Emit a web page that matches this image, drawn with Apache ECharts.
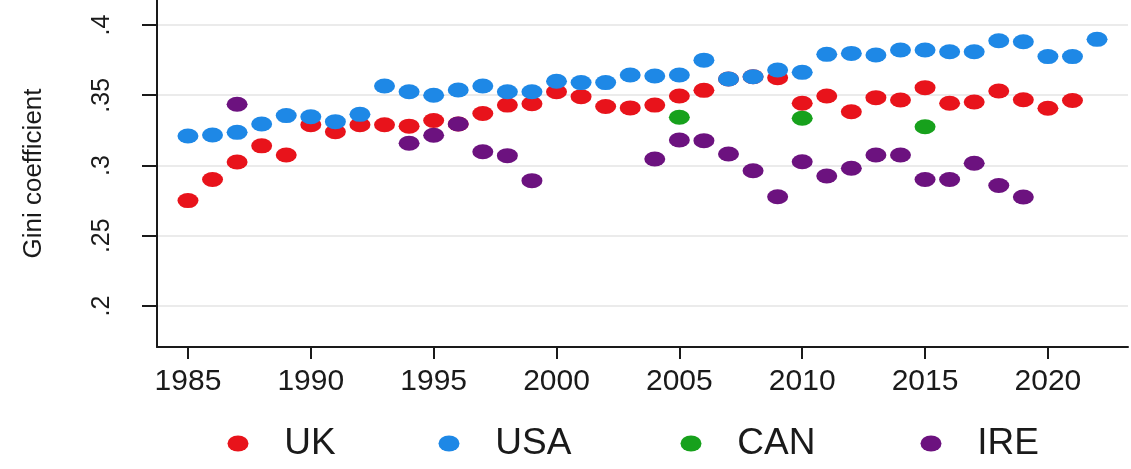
<!DOCTYPE html>
<html>
<head>
<meta charset="utf-8">
<script src="https://cdn.jsdelivr.net/npm/echarts@6/dist/echarts.min.js"></script>
<style>
    html, body { margin: 0; padding: 0; background: #fff; }
    #chart { width: 1131px; height: 469px; }
</style>
</head>
<body>
<div id="chart"></div>
<script>
// years shown on the x axis
var years = [1985, 1986, 1987, 1988, 1989, 1990, 1991, 1992, 1993, 1994,
    1995, 1996, 1997, 1998, 1999, 2000, 2001, 2002, 2003, 2004,
    2005, 2006, 2007, 2008, 2009, 2010, 2011, 2012, 2013, 2014,
    2015, 2016, 2017, 2018, 2019, 2020, 2021, 2022];

// Gini coefficient per year (null = no observation)
var ukValues = [0.275, 0.290, 0.3025, 0.314, 0.3075, 0.329, 0.324, 0.329, 0.329, 0.328,
    0.332, 0.3295, 0.337, 0.343, 0.344, 0.3525, 0.349, 0.342, 0.341, 0.343,
    0.3495, 0.3535, 0.3616, 0.3632, 0.3625, 0.3443, 0.3495, 0.3383, 0.3483, 0.3466,
    0.3554, 0.3443, 0.3452, 0.353, 0.3468, 0.3407, 0.3463, null];

var usaValues = [0.321, 0.3217, 0.3236, 0.3295, 0.3355, 0.3347, 0.3312, 0.3364, 0.3566, 0.3525,
    0.350, 0.3537, 0.3566, 0.3525, 0.3525, 0.360, 0.359, 0.359, 0.3644, 0.3637,
    0.3644, 0.375, 0.3616, 0.3632, 0.368, 0.3663, 0.3791, 0.3798, 0.3786, 0.3822,
    0.3822, 0.381, 0.381, 0.3888, 0.3881, 0.3775, 0.3775, 0.3898];

var canValues = [null, null, null, null, null, null, null, null, null, null,
    null, null, null, null, null, null, null, null, null, null,
    0.3343, null, null, null, null, 0.3336, null, null, null, null,
    0.3276, null, null, null, null, null, null, null];

var ireValues = [null, null, 0.3436, null, null, null, null, null, null, 0.3158,
    0.3215, 0.3295, 0.3098, 0.307, 0.2892, null, null, null, null, 0.3046,
    0.3181, 0.3177, 0.3082, 0.2963, 0.2778, 0.3027, 0.2925, 0.298, 0.3075, 0.3075,
    0.290, 0.290, 0.3016, 0.2858, 0.2776, null, null, null];

var xTicks = [1985, 1990, 1995, 2000, 2005, 2010, 2015, 2020];
var yTicks = [0.2, 0.25, 0.3, 0.35, 0.4];

var countries = ['UK', 'USA', 'CAN', 'IRE'];
var colors = ['#e8131b', '#1e88e6', '#17a11c', '#6c127f'];
var legendCenters = [233, 444, 686, 926];

var font = '"Liberation Sans", Arial, sans-serif';
var ellipse = 'path://M1,0A1,1,0,1,1,-1,0A1,1,0,1,1,1,0Z';

function pairs(values) {
    var out = [];
    for (var i = 0; i < years.length; i++) {
        if (values[i] != null) out.push([years[i], values[i]]);
    }
    return out;
}

function makeSeries(name, values, color) {
    return {
        name: name,
        type: 'scatter',
        symbol: ellipse,
        symbolSize: [21, 15],
        symbolKeepAspect: false,
        itemStyle: { color: color, opacity: 1 },
        emphasis: { disabled: true },
        data: pairs(values)
    };
}

function makeLegends() {
    var list = [];
    for (var i = 0; i < countries.length; i++) {
        list.push({
            data: [countries[i]],
            left: legendCenters[i] - 10.5,
            top: 420,
            icon: ellipse,
            itemWidth: 21,
            itemHeight: 16,
            symbolKeepAspect: false,
            selectedMode: false,
            formatter: '   {name}',
            textStyle: { fontFamily: font, fontSize: 37, color: '#1a1a1a' }
        });
    }
    return list;
}

var chart = echarts.init(document.getElementById('chart'));

chart.setOption({
    animation: false,
    color: colors,
    grid: { left: 157, right: 3, top: 0, bottom: 122, containLabel: false },
    legend: makeLegends(),
    xAxis: {
        type: 'value',
        min: 1983.74,
        max: 2023.26,
        axisLine: { show: true, lineStyle: { color: '#1a1a1a', width: 2 } },
        axisTick: { show: true, length: 12, customValues: xTicks, lineStyle: { color: '#1a1a1a', width: 2 } },
        axisLabel: {
            customValues: xTicks,
            margin: 20,
            fontFamily: font,
            fontSize: 30,
            color: '#1a1a1a',
            formatter: function (v) { return String(v); }
        },
        splitLine: { show: false }
    },
    yAxis: {
        type: 'value',
        min: 0.1708,
        max: 0.4178,
        name: 'Gini coefficient',
        nameLocation: 'middle',
        nameGap: 110,
        nameTextStyle: { fontFamily: font, fontSize: 26, color: '#1a1a1a' },
        axisLine: { show: true, lineStyle: { color: '#1a1a1a', width: 2 } },
        axisTick: { show: true, length: 15, customValues: yTicks, lineStyle: { color: '#1a1a1a', width: 2 } },
        axisLabel: {
            customValues: yTicks,
            rotate: 90,
            margin: 42,
            fontFamily: font,
            fontSize: 25,
            color: '#1a1a1a',
            formatter: function (v) { return String(+v.toFixed(2)).replace(/^0/, ''); }
        },
        splitLine: { show: true, lineStyle: { color: '#ebebeb', width: 2 } }
    },
    series: [
        makeSeries('UK', ukValues, colors[0]),
        makeSeries('USA', usaValues, colors[1]),
        makeSeries('CAN', canValues, colors[2]),
        makeSeries('IRE', ireValues, colors[3])
    ]
});
</script>
</body>
</html>
